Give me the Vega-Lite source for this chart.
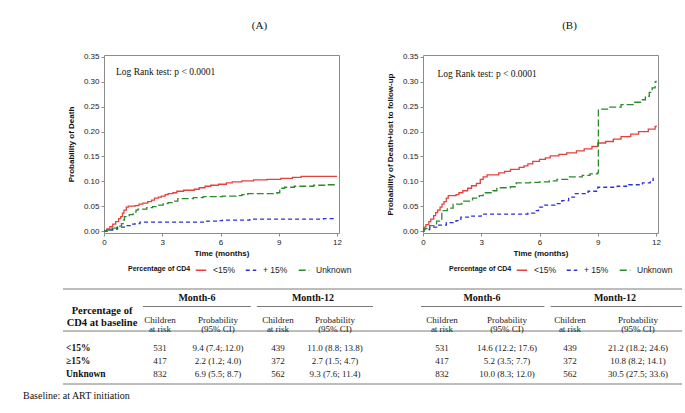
{
  "$schema": "https://vega.github.io/schema/vega-lite/v6.json",
  "background": "white",
  "padding": {"left": 22, "top": 19, "right": 2, "bottom": 12},
  "spacing": 84,
  "bounds": "flush",
  "config": {
    "view": {"stroke": "#8c8c8c", "strokeWidth": 1},
    "font": "Liberation Sans",
    "title": {"font": "Liberation Serif", "fontSize": 11, "fontWeight": "normal", "color": "#111", "anchor": "middle", "offset": 22},
    "axis": {"grid": false, "domain": false, "ticks": true, "tickColor": "#8c8c8c", "tickSize": 3, "labelFont": "Liberation Sans", "labelFontSize": 8, "labelColor": "#222", "labelPadding": 2, "labelFlush": false, "labelOverlap": false, "labelBound": false, "titleFont": "Liberation Sans", "titleFontSize": 8, "titleFontWeight": "bold", "titleColor": "#111"},
    "legend": {"orient": "none", "direction": "horizontal", "titleOrient": "left", "titleFont": "Liberation Sans", "titleFontSize": 7, "titleFontWeight": "bold", "titleColor": "#111", "titlePadding": 4, "labelFont": "Liberation Sans", "labelFontSize": 8.5, "labelColor": "#222", "labelOffset": 6, "symbolType": "stroke", "symbolSize": 110, "symbolStrokeWidth": 1.3, "columnPadding": 8, "padding": 0}
  },
  "datasets": {
    "curvesA": [
      {"g":"<15%","t":0,"p":0},{"g":"<15%","t":0.15,"p":0.004},{"g":"<15%","t":0.3,"p":0.009},{"g":"<15%","t":0.45,"p":0.014},{"g":"<15%","t":0.6,"p":0.019},{"g":"<15%","t":0.75,"p":0.025},{"g":"<15%","t":0.86,"p":0.029},{"g":"<15%","t":0.95,"p":0.036},{"g":"<15%","t":1.03,"p":0.042},{"g":"<15%","t":1.15,"p":0.048},{"g":"<15%","t":1.25,"p":0.05},{"g":"<15%","t":1.6,"p":0.051},{"g":"<15%","t":1.8,"p":0.054},{"g":"<15%","t":2.0,"p":0.056},{"g":"<15%","t":2.25,"p":0.059},{"g":"<15%","t":2.45,"p":0.062},{"g":"<15%","t":2.6,"p":0.066},{"g":"<15%","t":2.8,"p":0.068},{"g":"<15%","t":2.95,"p":0.07},{"g":"<15%","t":3.15,"p":0.073},{"g":"<15%","t":3.3,"p":0.075},{"g":"<15%","t":3.55,"p":0.077},{"g":"<15%","t":3.75,"p":0.08},{"g":"<15%","t":4.1,"p":0.082},{"g":"<15%","t":4.65,"p":0.084},{"g":"<15%","t":4.9,"p":0.087},{"g":"<15%","t":5.2,"p":0.09},{"g":"<15%","t":5.5,"p":0.092},{"g":"<15%","t":5.9,"p":0.094},{"g":"<15%","t":6.3,"p":0.097},{"g":"<15%","t":6.6,"p":0.099},{"g":"<15%","t":7.1,"p":0.101},{"g":"<15%","t":7.7,"p":0.103},{"g":"<15%","t":8.4,"p":0.104},{"g":"<15%","t":9.1,"p":0.106},{"g":"<15%","t":9.7,"p":0.108},{"g":"<15%","t":10.15,"p":0.11},{"g":"<15%","t":12,"p":0.11},
      {"g":"+ 15%","t":0,"p":0},{"g":"+ 15%","t":0.15,"p":0.002},{"g":"+ 15%","t":0.45,"p":0.004},{"g":"+ 15%","t":0.7,"p":0.008},{"g":"+ 15%","t":1.1,"p":0.011},{"g":"+ 15%","t":1.35,"p":0.014},{"g":"+ 15%","t":1.6,"p":0.015},{"g":"+ 15%","t":1.85,"p":0.018},{"g":"+ 15%","t":5.1,"p":0.018},{"g":"+ 15%","t":5.3,"p":0.02},{"g":"+ 15%","t":5.9,"p":0.021},{"g":"+ 15%","t":6.1,"p":0.022},{"g":"+ 15%","t":7.5,"p":0.023},{"g":"+ 15%","t":7.6,"p":0.024},{"g":"+ 15%","t":11.3,"p":0.025},{"g":"+ 15%","t":11.8,"p":0.026},
      {"g":"Unknown","t":0,"p":0},{"g":"Unknown","t":0.15,"p":0.002},{"g":"Unknown","t":0.4,"p":0.006},{"g":"Unknown","t":0.65,"p":0.01},{"g":"Unknown","t":0.9,"p":0.015},{"g":"Unknown","t":1.0,"p":0.022},{"g":"Unknown","t":1.05,"p":0.029},{"g":"Unknown","t":1.3,"p":0.033},{"g":"Unknown","t":1.5,"p":0.038},{"g":"Unknown","t":1.65,"p":0.042},{"g":"Unknown","t":1.75,"p":0.044},{"g":"Unknown","t":2.2,"p":0.047},{"g":"Unknown","t":2.5,"p":0.049},{"g":"Unknown","t":2.75,"p":0.052},{"g":"Unknown","t":3.05,"p":0.055},{"g":"Unknown","t":3.3,"p":0.057},{"g":"Unknown","t":3.55,"p":0.06},{"g":"Unknown","t":3.8,"p":0.065},{"g":"Unknown","t":4.6,"p":0.067},{"g":"Unknown","t":5.1,"p":0.069},{"g":"Unknown","t":6.1,"p":0.07},{"g":"Unknown","t":6.8,"p":0.071},{"g":"Unknown","t":7.1,"p":0.073},{"g":"Unknown","t":7.4,"p":0.075},{"g":"Unknown","t":8.9,"p":0.077},{"g":"Unknown","t":9.05,"p":0.086},{"g":"Unknown","t":9.3,"p":0.088},{"g":"Unknown","t":9.8,"p":0.09},{"g":"Unknown","t":10.8,"p":0.092},{"g":"Unknown","t":11.4,"p":0.093},{"g":"Unknown","t":12,"p":0.093}
    ],
    "curvesB": [
      {"g":"<15%","t":0,"p":0},{"g":"<15%","t":0.03,"p":0.008},{"g":"<15%","t":0.15,"p":0.013},{"g":"<15%","t":0.3,"p":0.019},{"g":"<15%","t":0.4,"p":0.024},{"g":"<15%","t":0.55,"p":0.031},{"g":"<15%","t":0.65,"p":0.037},{"g":"<15%","t":0.75,"p":0.042},{"g":"<15%","t":0.88,"p":0.048},{"g":"<15%","t":0.98,"p":0.054},{"g":"<15%","t":1.08,"p":0.059},{"g":"<15%","t":1.2,"p":0.066},{"g":"<15%","t":1.3,"p":0.071},{"g":"<15%","t":1.7,"p":0.073},{"g":"<15%","t":1.85,"p":0.077},{"g":"<15%","t":2.05,"p":0.081},{"g":"<15%","t":2.3,"p":0.086},{"g":"<15%","t":2.5,"p":0.091},{"g":"<15%","t":2.75,"p":0.096},{"g":"<15%","t":2.95,"p":0.104},{"g":"<15%","t":3.1,"p":0.109},{"g":"<15%","t":3.3,"p":0.113},{"g":"<15%","t":3.9,"p":0.117},{"g":"<15%","t":4.2,"p":0.12},{"g":"<15%","t":4.5,"p":0.124},{"g":"<15%","t":4.95,"p":0.128},{"g":"<15%","t":5.2,"p":0.131},{"g":"<15%","t":5.4,"p":0.135},{"g":"<15%","t":5.65,"p":0.14},{"g":"<15%","t":6.0,"p":0.144},{"g":"<15%","t":6.3,"p":0.147},{"g":"<15%","t":6.55,"p":0.151},{"g":"<15%","t":7.0,"p":0.154},{"g":"<15%","t":7.4,"p":0.157},{"g":"<15%","t":7.9,"p":0.161},{"g":"<15%","t":8.3,"p":0.165},{"g":"<15%","t":8.7,"p":0.17},{"g":"<15%","t":9.0,"p":0.177},{"g":"<15%","t":9.4,"p":0.18},{"g":"<15%","t":9.8,"p":0.185},{"g":"<15%","t":10.2,"p":0.19},{"g":"<15%","t":10.7,"p":0.195},{"g":"<15%","t":11.1,"p":0.2},{"g":"<15%","t":11.6,"p":0.205},{"g":"<15%","t":11.95,"p":0.21},{"g":"<15%","t":12,"p":0.212},
      {"g":"+ 15%","t":0,"p":0},{"g":"+ 15%","t":0.05,"p":0.003},{"g":"+ 15%","t":0.35,"p":0.008},{"g":"+ 15%","t":0.7,"p":0.012},{"g":"+ 15%","t":1.2,"p":0.017},{"g":"+ 15%","t":1.7,"p":0.021},{"g":"+ 15%","t":1.95,"p":0.028},{"g":"+ 15%","t":2.4,"p":0.03},{"g":"+ 15%","t":3.0,"p":0.034},{"g":"+ 15%","t":5.4,"p":0.036},{"g":"+ 15%","t":5.75,"p":0.041},{"g":"+ 15%","t":5.95,"p":0.048},{"g":"+ 15%","t":6.2,"p":0.052},{"g":"+ 15%","t":6.8,"p":0.055},{"g":"+ 15%","t":7.15,"p":0.061},{"g":"+ 15%","t":7.5,"p":0.068},{"g":"+ 15%","t":7.8,"p":0.075},{"g":"+ 15%","t":8.5,"p":0.08},{"g":"+ 15%","t":9.0,"p":0.088},{"g":"+ 15%","t":10.0,"p":0.09},{"g":"+ 15%","t":10.6,"p":0.093},{"g":"+ 15%","t":11.3,"p":0.097},{"g":"+ 15%","t":11.7,"p":0.102},{"g":"+ 15%","t":11.85,"p":0.107},
      {"g":"Unknown","t":0,"p":0},{"g":"Unknown","t":0.05,"p":0.005},{"g":"Unknown","t":0.35,"p":0.011},{"g":"Unknown","t":0.7,"p":0.02},{"g":"Unknown","t":0.92,"p":0.024},{"g":"Unknown","t":0.97,"p":0.041},{"g":"Unknown","t":1.25,"p":0.046},{"g":"Unknown","t":1.55,"p":0.054},{"g":"Unknown","t":2.0,"p":0.06},{"g":"Unknown","t":2.55,"p":0.066},{"g":"Unknown","t":2.9,"p":0.071},{"g":"Unknown","t":3.1,"p":0.077},{"g":"Unknown","t":3.6,"p":0.081},{"g":"Unknown","t":3.8,"p":0.087},{"g":"Unknown","t":4.5,"p":0.089},{"g":"Unknown","t":4.8,"p":0.097},{"g":"Unknown","t":5.5,"p":0.098},{"g":"Unknown","t":6.0,"p":0.099},{"g":"Unknown","t":6.5,"p":0.101},{"g":"Unknown","t":6.9,"p":0.104},{"g":"Unknown","t":7.5,"p":0.109},{"g":"Unknown","t":8.2,"p":0.112},{"g":"Unknown","t":8.6,"p":0.115},{"g":"Unknown","t":8.98,"p":0.117},{"g":"Unknown","t":9.03,"p":0.245},{"g":"Unknown","t":9.5,"p":0.249},{"g":"Unknown","t":10.2,"p":0.254},{"g":"Unknown","t":10.9,"p":0.259},{"g":"Unknown","t":11.2,"p":0.264},{"g":"Unknown","t":11.45,"p":0.271},{"g":"Unknown","t":11.65,"p":0.279},{"g":"Unknown","t":11.8,"p":0.288},{"g":"Unknown","t":11.95,"p":0.3},{"g":"Unknown","t":12,"p":0.302}
    ],
    "cells": [
      {"kind":"lblhdr","col":0,"row":0.5,"text":"Percentage of\nCD4 at baseline"},
      {"kind":"hdr","col":1.5,"row":0,"text":"Month-6"},
      {"kind":"hdr","col":3.5,"row":0,"text":"Month-12"},
      {"kind":"hdr","col":6.5,"row":0,"text":"Month-6"},
      {"kind":"hdr","col":8.5,"row":0,"text":"Month-12"},
      {"kind":"sub","col":1,"row":1,"text":"Children\nat risk"},
      {"kind":"sub","col":2,"row":1,"text":"Probability\n(95% CI)"},
      {"kind":"sub","col":3,"row":1,"text":"Children\nat risk"},
      {"kind":"sub","col":4,"row":1,"text":"Probability\n(95% CI)"},
      {"kind":"sub","col":6,"row":1,"text":"Children\nat risk"},
      {"kind":"sub","col":7,"row":1,"text":"Probability\n(95% CI)"},
      {"kind":"sub","col":8,"row":1,"text":"Children\nat risk"},
      {"kind":"sub","col":9,"row":1,"text":"Probability\n(95% CI)"},
      {"kind":"rowlbl","col":-0.5,"row":2,"text":"<15%"},
      {"kind":"rowlbl","col":-0.5,"row":3,"text":"≥15%"},
      {"kind":"rowlbl","col":-0.5,"row":4,"text":"Unknown"},
      {"kind":"val","col":1,"row":2,"text":"531"},
      {"kind":"val","col":2,"row":2,"text":"9.4 (7.4;.12.0)"},
      {"kind":"val","col":3,"row":2,"text":"439"},
      {"kind":"val","col":4,"row":2,"text":"11.0 (8.8; 13.8)"},
      {"kind":"val","col":6,"row":2,"text":"531"},
      {"kind":"val","col":7,"row":2,"text":"14.6 (12.2; 17.6)"},
      {"kind":"val","col":8,"row":2,"text":"439"},
      {"kind":"val","col":9,"row":2,"text":"21.2 (18.2; 24.6)"},
      {"kind":"val","col":1,"row":3,"text":"417"},
      {"kind":"val","col":2,"row":3,"text":"2.2 (1.2; 4.0)"},
      {"kind":"val","col":3,"row":3,"text":"372"},
      {"kind":"val","col":4,"row":3,"text":"2.7 (1.5; 4.7)"},
      {"kind":"val","col":6,"row":3,"text":"417"},
      {"kind":"val","col":7,"row":3,"text":"5.2 (3.5; 7.7)"},
      {"kind":"val","col":8,"row":3,"text":"372"},
      {"kind":"val","col":9,"row":3,"text":"10.8 (8.2; 14.1)"},
      {"kind":"val","col":1,"row":4,"text":"832"},
      {"kind":"val","col":2,"row":4,"text":"6.9 (5.5; 8.7)"},
      {"kind":"val","col":3,"row":4,"text":"562"},
      {"kind":"val","col":4,"row":4,"text":"9.3 (7.6; 11.4)"},
      {"kind":"val","col":6,"row":4,"text":"832"},
      {"kind":"val","col":7,"row":4,"text":"10.0 (8.3; 12.0)"},
      {"kind":"val","col":8,"row":4,"text":"562"},
      {"kind":"val","col":9,"row":4,"text":"30.5 (27.5; 33.6)"},
      {"kind":"note","col":-1,"row":5,"text":"Baseline: at ART initiation"}
    ],
    "rules": [
      {"col":-0.5,"col2":9.5,"row":-0.5},
      {"col":0.5,"col2":2.45,"row":0.5},
      {"col":2.55,"col2":4.5,"row":0.5},
      {"col":5.5,"col2":7.45,"row":0.5},
      {"col":7.55,"col2":9.5,"row":0.5},
      {"col":-0.5,"col2":9.5,"row":1.5},
      {"col":-0.5,"col2":9.5,"row":4.5}
    ]
  },
  "resolve": {"scale": {"color": "independent", "strokeDash": "independent"}, "legend": {"color": "independent", "strokeDash": "independent"}},
  "hconcat": [
    {
      "width": 235,
      "height": 178,
      "title": {"text": "(A)", "dx": 38},
      "resolve": {"scale": {"x": "independent", "y": "independent"}},
      "layer": [
        {
          "layer": [
            {
              "data": {"name": "curvesA"},
              "mark": {"type": "line", "interpolate": "step-after", "strokeWidth": 1.3},
              "encoding": {
                "x": {"field": "t", "type": "quantitative", "scale": {"domain": [0, 12.1], "nice": false, "zero": false}, "axis": {"values": [0, 3, 6, 9, 12], "format": "d", "title": "Time (months)", "titlePadding": 3, "labelOverlap": false}},
                "y": {"field": "p", "type": "quantitative", "scale": {"domain": [-0.004, 0.354], "nice": false, "zero": false}, "axis": {"values": [0, 0.05, 0.1, 0.15, 0.2, 0.25, 0.3, 0.35], "format": ".2f", "title": "Probability of Death", "titlePadding": 8, "labelOverlap": false, "tickCount": 8}},
                "color": {"field": "g", "type": "nominal", "scale": {"domain": ["<15%", "+ 15%", "Unknown"], "range": ["#e4403d", "#2f2fd6", "#2b8a2b"]}, "legend": {"title": "Percentage of CD4", "legendX": 24, "legendY": 209}},
                "strokeDash": {"field": "g", "type": "nominal", "scale": {"domain": ["<15%", "+ 15%", "Unknown"], "range": [[1, 0], [4, 3], [7, 3]]}, "legend": {"title": "Percentage of CD4", "legendX": 24, "legendY": 209}}
              }
            },
            {
              "data": {"values": [{"label": "Log Rank test: p < 0.0001"}]},
              "mark": {"type": "text", "align": "left", "baseline": "middle", "font": "Liberation Serif", "fontSize": 9.5, "color": "#111"},
              "encoding": {
                "x": {"datum": 0.62, "type": "quantitative"},
                "y": {"datum": 0.32, "type": "quantitative"},
                "text": {"field": "label", "type": "nominal"}
              }
            }
          ]
        },
        {
          "encoding": {
            "x": {"field": "col", "type": "quantitative", "axis": null, "scale": {"nice": false, "zero": false, "domain": [-1, -0.5, 0, 0.5, 1, 1.5, 2, 2.5, 3, 3.5, 4, 4.5, 5.5, 6, 6.5, 7, 7.5, 8, 8.5, 9, 9.5], "range": [-81, -41, -2, 39, 56, 93, 114, 150.5, 174, 209, 231, 269, 317, 338, 378, 403, 444.5, 466, 511, 534, 578]}},
            "y": {"field": "row", "type": "quantitative", "axis": null, "scale": {"nice": false, "zero": false, "domain": [-0.5, 0, 0.5, 1, 1.5, 2, 3, 4, 4.5, 5], "range": [234, 243, 251.5, 264.5, 276, 293, 306, 319, 329, 340.5]}}
          },
          "layer": [
            {
              "data": {"name": "rules"},
              "mark": {"type": "rule", "color": "#7a7a7a", "strokeWidth": 1},
              "encoding": {"x2": {"field": "col2"}}
            },
            {
              "data": {"name": "cells"},
              "transform": [{"filter": "datum.kind == 'lblhdr'"}],
              "mark": {"type": "text", "font": "Liberation Serif", "fontSize": 10.5, "fontWeight": "bold", "align": "center", "baseline": "middle", "lineBreak": "\n", "lineHeight": 12, "dy": 4, "color": "#111"},
              "encoding": {"text": {"field": "text", "type": "nominal"}}
            },
            {
              "data": {"name": "cells"},
              "transform": [{"filter": "datum.kind == 'hdr'"}],
              "mark": {"type": "text", "font": "Liberation Serif", "fontSize": 10, "fontWeight": "bold", "align": "center", "baseline": "middle", "color": "#111"},
              "encoding": {"text": {"field": "text", "type": "nominal"}}
            },
            {
              "data": {"name": "cells"},
              "transform": [{"filter": "datum.kind == 'sub'"}],
              "mark": {"type": "text", "font": "Liberation Serif", "fontSize": 9, "align": "center", "baseline": "middle", "lineBreak": "\n", "lineHeight": 9.5, "color": "#222"},
              "encoding": {"text": {"field": "text", "type": "nominal"}}
            },
            {
              "data": {"name": "cells"},
              "transform": [{"filter": "datum.kind == 'rowlbl'"}],
              "mark": {"type": "text", "font": "Liberation Serif", "fontSize": 9.5, "fontWeight": "bold", "align": "left", "baseline": "middle", "dx": 3, "color": "#111"},
              "encoding": {"text": {"field": "text", "type": "nominal"}}
            },
            {
              "data": {"name": "cells"},
              "transform": [{"filter": "datum.kind == 'val'"}],
              "mark": {"type": "text", "font": "Liberation Serif", "fontSize": 9, "align": "center", "baseline": "middle", "color": "#222"},
              "encoding": {"text": {"field": "text", "type": "nominal"}}
            },
            {
              "data": {"name": "cells"},
              "transform": [{"filter": "datum.kind == 'note'"}],
              "mark": {"type": "text", "font": "Liberation Serif", "fontSize": 10, "align": "left", "baseline": "middle", "color": "#111"},
              "encoding": {"text": {"field": "text", "type": "nominal"}}
            }
          ]
        }
      ]
    },
    {
      "width": 235,
      "height": 178,
      "title": {"text": "(B)", "dx": 29},
      "layer": [
        {
          "data": {"name": "curvesB"},
          "mark": {"type": "line", "interpolate": "step-after", "strokeWidth": 1.3},
          "encoding": {
            "x": {"field": "t", "type": "quantitative", "scale": {"domain": [0, 12.1], "nice": false, "zero": false}, "axis": {"values": [0, 3, 6, 9, 12], "format": "d", "title": "Time (months)", "titlePadding": 3, "labelOverlap": false}},
            "y": {"field": "p", "type": "quantitative", "scale": {"domain": [-0.004, 0.354], "nice": false, "zero": false}, "axis": {"values": [0, 0.05, 0.1, 0.15, 0.2, 0.25, 0.3, 0.35], "format": ".2f", "title": "Probability of Death+lost to follow-up", "titlePadding": 8, "labelOverlap": false, "tickCount": 8}},
            "color": {"field": "g", "type": "nominal", "scale": {"domain": ["<15%", "+ 15%", "Unknown"], "range": ["#e4403d", "#2f2fd6", "#2b8a2b"]}, "legend": {"title": "Percentage of CD4", "legendX": 26, "legendY": 209}},
            "strokeDash": {"field": "g", "type": "nominal", "scale": {"domain": ["<15%", "+ 15%", "Unknown"], "range": [[1, 0], [4, 3], [7, 3]]}, "legend": {"title": "Percentage of CD4", "legendX": 26, "legendY": 209}}
          }
        },
        {
          "data": {"values": [{"label": "Log Rank test: p < 0.0001"}]},
          "mark": {"type": "text", "align": "left", "baseline": "middle", "font": "Liberation Serif", "fontSize": 9.5, "color": "#111"},
          "encoding": {
            "x": {"datum": 0.75, "type": "quantitative"},
            "y": {"datum": 0.316, "type": "quantitative"},
            "text": {"field": "label", "type": "nominal"}
          }
        }
      ]
    }
  ]
}
